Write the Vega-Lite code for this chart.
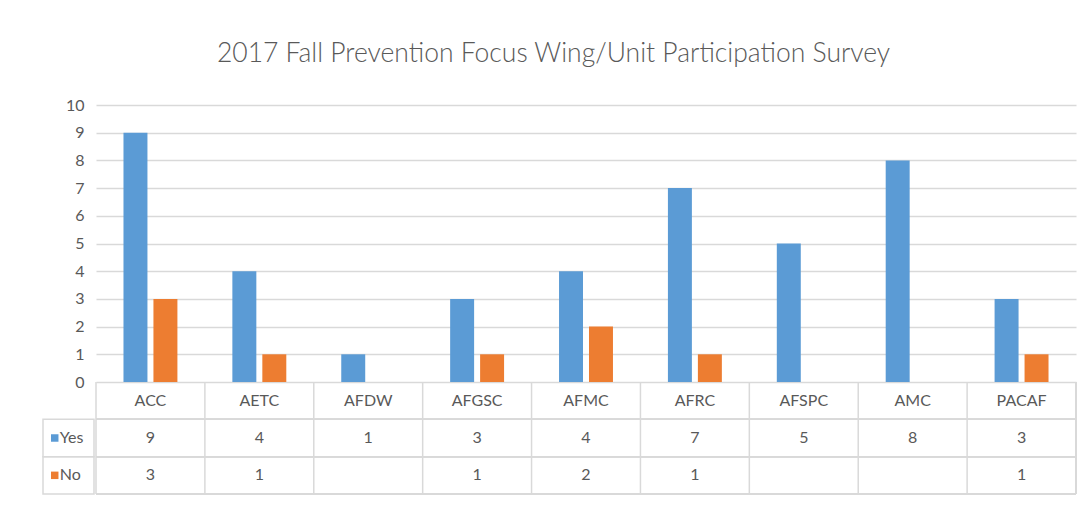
{
  "$schema": "https://vega.github.io/schema/vega-lite/v6.json",
  "background": "white",
  "padding": {"left": 42, "top": 40, "right": 0, "bottom": 0},
  "title": {"text": "2017 Fall Prevention Focus Wing/Unit Participation Survey", "font": "Lato", "fontSize": 26.5, "fontWeight": 300, "color": "#595959", "anchor": "middle", "offset": 30, "dx": -6},
  "config": {"view": {"stroke": null}, "font": "Lato", "concat": {"spacing": 0}},
  "data": {"values": [
    {"org": "ACC", "answer": "Yes", "count": 9},
    {"org": "ACC", "answer": "No", "count": 3},
    {"org": "AETC", "answer": "Yes", "count": 4},
    {"org": "AETC", "answer": "No", "count": 1},
    {"org": "AFDW", "answer": "Yes", "count": 1},
    {"org": "AFGSC", "answer": "Yes", "count": 3},
    {"org": "AFGSC", "answer": "No", "count": 1},
    {"org": "AFMC", "answer": "Yes", "count": 4},
    {"org": "AFMC", "answer": "No", "count": 2},
    {"org": "AFRC", "answer": "Yes", "count": 7},
    {"org": "AFRC", "answer": "No", "count": 1},
    {"org": "AFSPC", "answer": "Yes", "count": 5},
    {"org": "AMC", "answer": "Yes", "count": 8},
    {"org": "PACAF", "answer": "Yes", "count": 3},
    {"org": "PACAF", "answer": "No", "count": 1}
  ]},
  "spacing": 0,
  "hconcat": [
    {
      "spacing": 0,
      "bounds": "flush",
      "vconcat": [
        {
          "width": 51,
          "height": 277,
          "mark": {"type": "point", "opacity": 0},
          "encoding": {
            "y": {"field": "count", "type": "quantitative", "scale": {"domain": [0, 10]}, "axis": {"orient": "right", "values": [0,1,2,3,4,5,6,7,8,9,10], "grid": false, "domain": false, "ticks": false, "labelAlign": "right", "labelPadding": -10, "labelFontSize": 16, "labelColor": "#595959", "labelFont": "Lato", "title": null}}
          }
        },
        {
          "width": 51,
          "height": 112,
          "transform": [{"filter": "datum.org === 'ACC'"}],
          "encoding": {
            "y": {"field": "answer", "type": "nominal", "scale": {"domain": ["hdr","Yes","No"], "paddingInner": 0, "paddingOuter": 0}, "axis": null}
          },
          "layer": [
            {"mark": {"type": "rect", "fill": null, "stroke": "#d9d9d9", "strokeWidth": 1.5},
             "encoding": {"x": {"datum": 0, "type": "quantitative", "scale": {"domain": [0, 1]}, "axis": null}, "x2": {"datum": 1}}},
            {"mark": {"type": "point", "shape": "square", "filled": true, "size": 56, "opacity": 1},
             "encoding": {"x": {"datum": 0.23, "type": "quantitative"},
                          "color": {"field": "answer", "type": "nominal", "scale": {"domain": ["Yes","No"], "range": ["#5B9BD5","#ED7D31"]}, "legend": null}}},
            {"mark": {"type": "text", "align": "left", "baseline": "middle", "fontSize": 16, "color": "#595959", "font": "Lato"},
             "encoding": {"x": {"datum": 0.33, "type": "quantitative"}, "text": {"field": "answer"}}}
          ]
        }
      ]
    },
    {
      "spacing": 0,
      "bounds": "flush",
      "vconcat": [
        {
          "width": 980,
          "height": 277,
          "mark": {"type": "bar"},
          "encoding": {
            "x": {"field": "org", "type": "nominal", "scale": {"domain": ["ACC","AETC","AFDW","AFGSC","AFMC","AFRC","AFSPC","AMC","PACAF"], "paddingInner": 0, "paddingOuter": 0}, "axis": null},
            "xOffset": {"field": "answer", "type": "nominal", "scale": {"domain": ["Yes","No"], "paddingInner": 0.2, "paddingOuter": 0.917}},
            "y": {"field": "count", "type": "quantitative", "scale": {"domain": [0, 10]}, "axis": {"values": [0,1,2,3,4,5,6,7,8,9,10], "grid": true, "gridColor": "#d9d9d9", "gridWidth": 1.5, "domain": false, "ticks": false, "labels": false, "title": null}},
            "color": {"field": "answer", "type": "nominal", "scale": {"domain": ["Yes","No"], "range": ["#5B9BD5","#ED7D31"]}, "legend": null}
          }
        },
        {
          "width": 980,
          "height": 112,
          "encoding": {
            "x": {"field": "org", "type": "nominal", "scale": {"domain": ["ACC","AETC","AFDW","AFGSC","AFMC","AFRC","AFSPC","AMC","PACAF"], "paddingInner": 0, "paddingOuter": 0}, "axis": null}
          },
          "layer": [
            {"mark": {"type": "rule", "color": "#d9d9d9", "strokeWidth": 1.5},
             "transform": [{"filter": "datum.answer === 'Yes'"}],
             "encoding": {"x": {"field": "org", "type": "nominal", "bandPosition": 0}}},
            {"mark": {"type": "rule", "color": "#d9d9d9", "strokeWidth": 1.5},
             "encoding": {"x": {"datum": "PACAF", "type": "nominal", "bandPosition": 1}}},
            {"mark": {"type": "rule", "color": "#d9d9d9", "strokeWidth": 1.5},
             "encoding": {"x": null, "y": {"datum": "Yes", "type": "nominal", "bandPosition": 0, "scale": {"domain": ["hdr","Yes","No"], "paddingInner": 0, "paddingOuter": 0}, "axis": null}}},
            {"mark": {"type": "rule", "color": "#d9d9d9", "strokeWidth": 1.5},
             "encoding": {"x": null, "y": {"datum": "No", "type": "nominal", "bandPosition": 0}}},
            {"mark": {"type": "rule", "color": "#d9d9d9", "strokeWidth": 1.5},
             "encoding": {"x": null, "y": {"datum": "No", "type": "nominal", "bandPosition": 1}}},
            {"mark": {"type": "text", "fontSize": 16, "color": "#595959", "font": "Lato", "baseline": "middle"},
             "transform": [{"filter": "datum.answer === 'Yes'"}],
             "encoding": {"y": {"datum": "hdr", "type": "nominal"}, "text": {"field": "org"}}},
            {"mark": {"type": "text", "fontSize": 16, "color": "#595959", "font": "Lato", "baseline": "middle"},
             "encoding": {"y": {"field": "answer", "type": "nominal"}, "text": {"field": "count"}}}
          ]
        }
      ]
    }
  ]
}
